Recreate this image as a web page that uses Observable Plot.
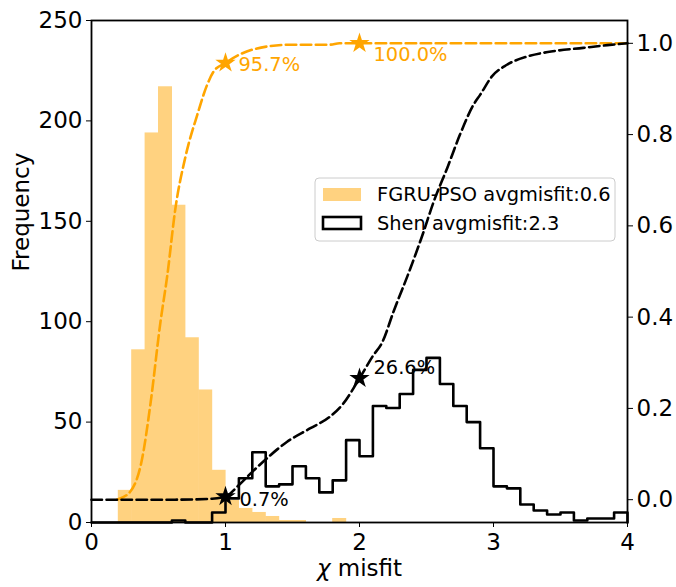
<!DOCTYPE html>
<html><head><meta charset="utf-8">
<script src="https://cdn.jsdelivr.net/npm/d3@7"></script>
<script src="https://cdn.jsdelivr.net/npm/@observablehq/plot@0.6"></script>
<style>body{margin:0;background:#fff}</style>
</head><body><div id="chart"></div>
<script>
// ---- data ----
const binWidth = 0.1;
const fgruBinStart = [0.2,0.3,0.4,0.5,0.6,0.7,0.8,0.9,1.0,1.1,1.2,1.3,1.4,1.5,1.6,1.7,1.8];
const fgruCounts   = [16, 86, 194, 217, 158, 92, 66, 26, 11, 7, 5, 3, 1, 1, 0, 0, 2];
const shenBinStart = [0.0,0.1,0.2,0.3,0.4,0.5,0.6,0.7,0.8,0.9,1.0,1.1,1.2,1.3,1.4,1.5,1.6,1.7,1.8,1.9,
                      2.0,2.1,2.2,2.3,2.4,2.5,2.6,2.7,2.8,2.9,3.0,3.1,3.2,3.3,3.4,3.5,3.6,3.7,3.8,3.9];
const shenCounts   = [0,0,0,0,0,0,1,0,0,5,12,22,35,18,19,28,22,15,21,41,
                      33,58,57,64,76,82,69,58,50,37,18,17,9,6,4,5,1,2,2,5];

const fgruCdfX = [0.19,0.29,0.378,0.44,0.515,0.565,0.627,0.70,0.79,0.863,0.913,1.0,1.11,1.31,1.49,1.78,1.85,2.0,4.0];
const fgruCdfV = [0.0,0.018,0.09,0.21,0.39,0.49,0.64,0.75,0.844,0.909,0.939,0.957,0.976,0.993,0.997,0.997,1.0,1.0,1.0];
const shenCdfX = [0.0,0.6,0.9,1.0,1.1,1.2,1.31,1.46,1.63,1.78,1.88,2.0,2.1,2.17,2.255,2.38,2.47,2.555,2.655,2.75,2.85,2.9,2.99,3.10,3.25,3.43,3.67,3.85,4.0];
const shenCdfV = [0.0,0.0,0.002,0.007,0.032,0.061,0.091,0.127,0.156,0.182,0.211,0.266,0.315,0.345,0.413,0.507,0.58,0.654,0.727,0.80,0.865,0.887,0.928,0.953,0.971,0.982,0.99,0.996,1.0];

const markX = [1, 2];
const fgruMarkV = [0.957, 1.0];
const fgruMarkLabel = ["95.7%", "100.0%"];
const shenMarkV = [0.007, 0.266];
const shenMarkLabel = ["0.7%", "26.6%"];

const xTicks = [0, 1, 2, 3, 4];
const yTicks = [0, 50, 100, 150, 200, 250];
const cdfTicks = [0.0, 0.2, 0.4, 0.6, 0.8, 1.0];
const legendLabels = ["FGRU-PSO avgmisfit:0.6", "Shen avgmisfit:2.3"];
const xLabel = "χ misfit";
const yLabel = "Frequency";

// ---- secondary (right) axis mapping: CDF range [-0.05, 1.05] onto frequency [0, 250]
const toFreq = v => (v + 0.05) / 1.1 * 250;
const fromFreq = f => f * 1.1 / 250 - 0.05;

const ORANGE = "#ffa500";
const ORANGE_LIGHT = "#ffd280"; // orange at 50% alpha on white
const fgru = fgruBinStart.map((s, i) => ({x1: s, x2: s + binWidth, count: fgruCounts[i]}));
const shenLast = shenBinStart.length - 1;
const shenStep = [{x: shenBinStart[0], y: 0}]
  .concat(shenBinStart.map((s, i) => ({x: s, y: shenCounts[i]})))
  .concat([{x: shenBinStart[shenLast] + binWidth, y: shenCounts[shenLast]},
           {x: shenBinStart[shenLast] + binWidth, y: 0}]);
const fgruCdf = fgruCdfX.map((x, i) => ({x, v: fgruCdfV[i]}));
const shenCdf = shenCdfX.map((x, i) => ({x, v: shenCdfV[i]}));
const fgruMarks = markX.map((x, i) => ({x, v: fgruMarkV[i], label: fgruMarkLabel[i]}));
const shenMarks = markX.map((x, i) => ({x, v: shenMarkV[i], label: shenMarkLabel[i]}));

const annFont = 19.4;
const LW = 2.6, DASH = "10.5,4.5";
const ann = (d, color, dx, dy) => Plot.text([d], {
  x: "x", y: e => toFreq(e.v), text: "label", fill: color,
  textAnchor: "start", dx, dy, fontSize: annFont
});

const chart = Plot.plot({
  width: 676, height: 587,
  marginLeft: 91, marginRight: 49, marginTop: 20, marginBottom: 65,
  style: {fontFamily: "DejaVu Sans", fontSize: "23px", color: "black", background: "white"},
  x: {domain: [0, 4]},
  y: {domain: [0, 250]},
  marks: [
    Plot.rectY(fgru, {x1: "x1", x2: "x2", y: "count", fill: ORANGE_LIGHT, insetRight: -0.6}),
    Plot.line(shenStep, {x: "x", y: "y", curve: "step-after", stroke: "black", strokeWidth: LW}),
    Plot.line(fgruCdf, {x: "x", y: d => toFreq(d.v), curve: "monotone-x", stroke: ORANGE, strokeWidth: LW, strokeDasharray: DASH}),
    Plot.line(shenCdf, {x: "x", y: d => toFreq(d.v), curve: "monotone-x", stroke: "black", strokeWidth: LW, strokeDasharray: DASH}),
    Plot.dot(fgruMarks, {x: "x", y: d => toFreq(d.v), symbol: "star", r: 6.4, fill: ORANGE, stroke: null}),
    Plot.dot(shenMarks, {x: "x", y: d => toFreq(d.v), symbol: "star", r: 6.4, fill: "black", stroke: null}),
    ann(fgruMarks[0], ORANGE, 13, 2),
    ann(fgruMarks[1], ORANGE, 14, 11),
    ann(shenMarks[0], "black", 14, 3),
    ann(shenMarks[1], "black", 14, -11),
    Plot.axisX({ticks: xTicks, tickSize: 5, tickPadding: 6, fontSize: 23, label: null, tickFormat: d => String(d)}),
    Plot.axisY({ticks: yTicks, tickSize: 5, tickPadding: 4, fontSize: 23, label: null}),
    Plot.axisY({anchor: "right", ticks: cdfTicks.map(toFreq), tickSize: 5, tickPadding: 4, fontSize: 23, label: null,
                tickFormat: f => (Math.round(fromFreq(f) * 10) / 10).toFixed(1)}),
    Plot.text([xLabel], {frameAnchor: "bottom", dy: 53, fontSize: 23}),
    Plot.text([yLabel], {frameAnchor: "left", rotate: -90, dx: -70, fontSize: 23}),
    Plot.frame({stroke: "black", strokeWidth: 1.8})
  ]
});
document.getElementById("chart").append(chart);

// italic chi in the x label
d3.select(chart).selectAll("text").filter(function() { return this.textContent === xLabel; })
  .each(function() {
    const t = d3.select(this); t.text(null);
    t.append("tspan").attr("font-style", "italic").text("χ");
    t.append("tspan").text(" misfit");
  });

// legend, placed under the CDF curves (as in the twin-axis original)
const svgns = "http://www.w3.org/2000/svg";
const lg = document.createElementNS(svgns, "g");
const lineGroups = Array.from(chart.children).filter(n => n.getAttribute && n.getAttribute("aria-label") === "line");
const anchorNode = lineGroups.length > 1 ? lineGroups[1] : null;
chart.insertBefore(lg, anchorNode);
const L = d3.select(lg).attr("text-anchor", "start");
L.append("rect").attr("x", 315).attr("y", 178).attr("width", 300).attr("height", 63)
  .attr("rx", 4).attr("fill", "white").attr("fill-opacity", 0.8).attr("stroke", "#cccccc").attr("stroke-width", 1);
L.append("rect").attr("x", 323).attr("y", 188).attr("width", 38).attr("height", 13)
  .attr("fill", ORANGE_LIGHT);
L.append("rect").attr("x", 323).attr("y", 217).attr("width", 38).attr("height", 12)
  .attr("fill", "none").attr("stroke", "black").attr("stroke-width", LW);
legendLabels.forEach((s, i) => {
  L.append("text").attr("x", 377).attr("y", 194.5 + i * 28.5).attr("dy", "0.35em")
    .attr("text-anchor", "start").attr("font-size", annFont).attr("fill", "black").text(s);
});
</script>
</body></html>
